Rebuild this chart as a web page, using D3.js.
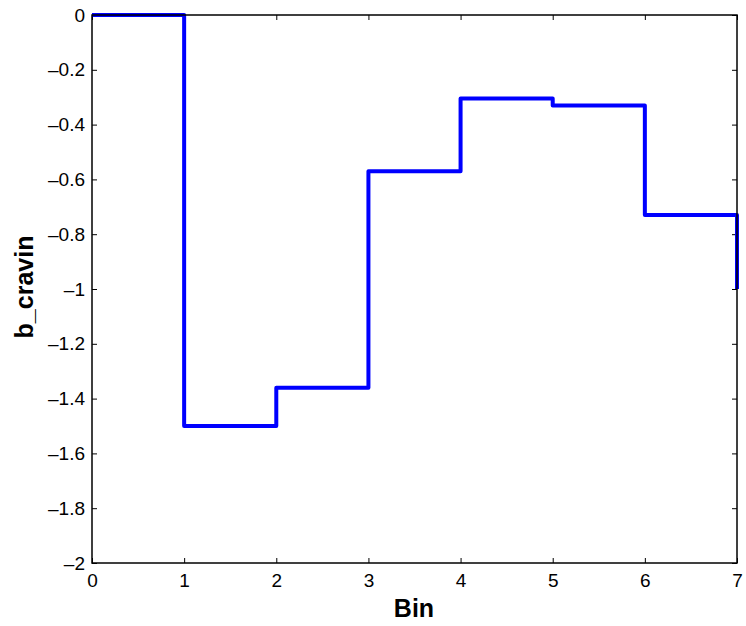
<!DOCTYPE html>
<html>
<head>
<meta charset="utf-8">
<script src="https://cdn.jsdelivr.net/npm/d3@7"></script>
<style>
  body { margin: 0; background: #fff; }
  .axis text { font-family: "Liberation Sans", Arial, sans-serif; font-size: 19px; fill: #000; }
  .axis path, .axis line { stroke: #000; }
</style>
</head>
<body>
<script type="text/javascript">

	// bin edges and step values
	var bins = [0, 1, 2, 3, 4, 5, 6, 7],
		values = [0, -1.5, -1.36, -0.57, -0.305, -0.33, -0.73, -1];

	var xTicks = [0, 1, 2, 3, 4, 5, 6, 7],
		yTicks = [0, -0.2, -0.4, -0.6, -0.8, -1, -1.2, -1.4, -1.6, -1.8, -2];

	var W = 746, H = 626;
	var mLeft = 92, mRight = 737, mTop = 15, mBottom = 563;

	var x = d3.scaleLinear()
		.domain([0, 7])
		.range([mLeft, mRight]);

	var y = d3.scaleLinear()
		.domain([-2, 0])
		.range([mBottom, mTop]);

	var svg = d3.select("body")
		.append("svg")
		.attr("width", W)
		.attr("height", H);

	// matlab-ish long minus
	var fmt = function(d) { return d3.format("")(d).replace("\u2212", "\u2013"); };

	// bottom axis, ticks pointing in
	svg.append("g")
		.attr("class", "axis")
		.attr("transform", "translate(0," + mBottom + ")")
		.call(d3.axisBottom(x).tickValues(xTicks).tickSize(-5).tickPadding(11).tickFormat(fmt))
		.call(function(g) { g.select(".domain").remove(); });

	// left axis
	svg.append("g")
		.attr("class", "axis")
		.attr("transform", "translate(" + mLeft + ",0)")
		.call(d3.axisLeft(y).tickValues(yTicks).tickSize(-5).tickPadding(7).tickFormat(fmt))
		.call(function(g) { g.select(".domain").remove(); });

	// top and right ticks, no labels
	svg.append("g")
		.attr("class", "axis")
		.attr("transform", "translate(0," + mTop + ")")
		.call(d3.axisTop(x).tickValues(xTicks).tickSize(-5).tickFormat(""))
		.call(function(g) { g.select(".domain").remove(); });

	svg.append("g")
		.attr("class", "axis")
		.attr("transform", "translate(" + mRight + ",0)")
		.call(d3.axisRight(y).tickValues(yTicks).tickSize(-5).tickFormat(""))
		.call(function(g) { g.select(".domain").remove(); });

	// stair line
	var line = d3.line()
		.x(function(d, i) { return x(bins[i]); })
		.y(function(d) { return y(d); })
		.curve(d3.curveStepAfter);

	svg.append("path")
		.datum(values)
		.attr("d", line)
		.attr("fill", "none")
		.attr("stroke", "#0000ff")
		.attr("stroke-width", 4)
		.attr("stroke-linejoin", "round");

	// box
	svg.append("rect")
		.attr("x", mLeft)
		.attr("y", mTop)
		.attr("width", mRight - mLeft)
		.attr("height", mBottom - mTop)
		.attr("fill", "none")
		.attr("stroke", "#000")
		.attr("stroke-width", 1.5);

	// axis titles
	svg.append("text")
		.attr("x", 414)
		.attr("y", 617)
		.attr("text-anchor", "middle")
		.attr("font-family", "Liberation Sans, Arial, sans-serif")
		.attr("font-weight", "bold")
		.attr("font-size", "25px")
		.text("Bin");

	svg.append("text")
		.attr("transform", "translate(33,287) rotate(-90)")
		.attr("text-anchor", "middle")
		.attr("font-family", "Liberation Sans, Arial, sans-serif")
		.attr("font-weight", "bold")
		.attr("font-size", "25px")
		.text("b_cravin");

</script>
</body>
</html>
